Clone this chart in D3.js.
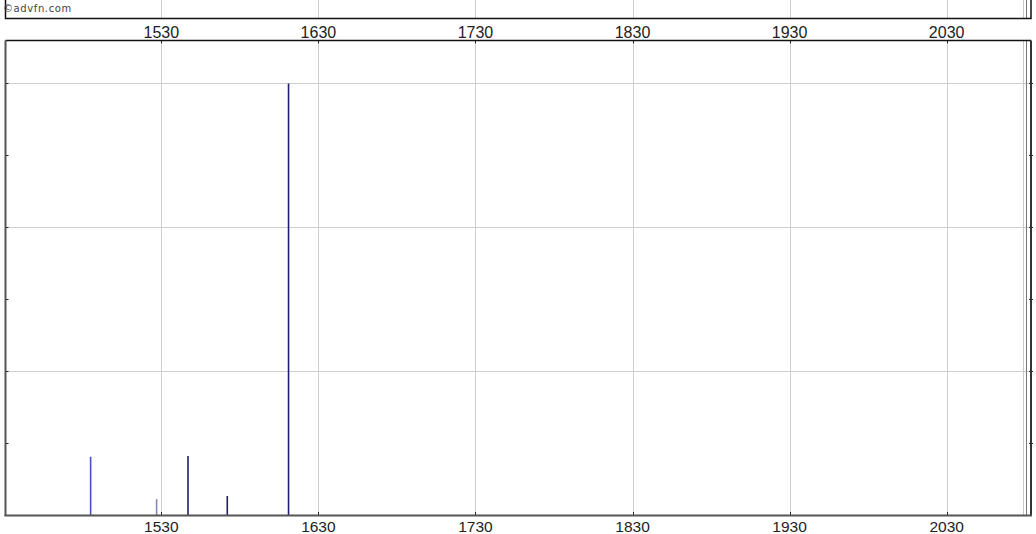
<!DOCTYPE html>
<html><head><meta charset="utf-8">
<script src="https://cdn.jsdelivr.net/npm/d3@7"></script>
<style>
html,body{margin:0;padding:0;background:#fff;}
svg{display:block;font-family:"Liberation Sans",Arial,sans-serif;}
</style></head>
<body>
<svg id="chart" width="1036" height="534"></svg>
<script>
// data
const dates = [1485, 1527, 1547, 1572, 1611];
const volumes = [405, 110, 410, 132, 3000];
const barColors = ["#4e4ec0", "#8686b4", "#1e1e70", "#1e1e70", "#1e1e70"];
const xTicks = [1530, 1630, 1730, 1830, 1930, 2030];
const yGrid = [1000, 2000, 3000];
const yMinor = [500, 1500, 2500];
const credit = "\u00A9advfn.com";

const svg = d3.select("#chart");
const L = 5.5, R = 1031, T = 40.5, B = 515;
const x = d3.scaleLinear().domain([1430.8, 2083.7]).range([L, R]);
const y = d3.scaleLinear().domain([0, 3298.6]).range([B, T]);

// top strip
const topG = svg.append("g");
topG.selectAll("line.tg").data(xTicks).join("line")
  .attr("x1", d => Math.round(x(d)) + 0.5).attr("x2", d => Math.round(x(d)) + 0.5)
  .attr("y1", 0).attr("y2", 18).attr("stroke", "#cfcfcf").attr("stroke-width", 1);
topG.append("line").attr("x1", 1023.5).attr("x2", 1023.5).attr("y1", 0).attr("y2", 18).attr("stroke", "#c8c8c8");
topG.append("line").attr("x1", 1026.5).attr("x2", 1026.5).attr("y1", 0).attr("y2", 18).attr("stroke", "#777");
topG.append("path").attr("d", `M${L},0V18.5H${R}V0`).attr("fill", "none").attr("stroke", "#111").attr("stroke-width", 1.5);
topG.append("text").attr("x", 3).attr("y", 12).attr("font-size", 10)
  .attr("font-family", "DejaVu Sans, sans-serif").attr("letter-spacing", 0.6)
  .attr("fill", "#444").text(credit);

// top axis labels
svg.append("g").selectAll("text").data(xTicks).join("text")
  .attr("x", d => x(d)).attr("y", 37.5).attr("text-anchor", "middle")
  .attr("font-size", 16).attr("fill", "#222").text(d => d);

// main gridlines
const g = svg.append("g");
g.selectAll("line.vg").data(xTicks).join("line")
  .attr("x1", d => Math.round(x(d)) + 0.5).attr("x2", d => Math.round(x(d)) + 0.5)
  .attr("y1", T).attr("y2", B).attr("stroke", "#cfcfcf").attr("stroke-width", 1);
g.selectAll("line.hg").data(yGrid).join("line")
  .attr("x1", L).attr("x2", R)
  .attr("y1", d => Math.round(y(d)) + 0.5).attr("y2", d => Math.round(y(d)) + 0.5)
  .attr("stroke", "#cfcfcf").attr("stroke-width", 1);
g.append("line").attr("x1", 1023.5).attr("x2", 1023.5).attr("y1", T).attr("y2", B).attr("stroke", "#c8c8c8");
g.append("line").attr("x1", 1026.5).attr("x2", 1026.5).attr("y1", T).attr("y2", B).attr("stroke", "#777");

// bars
g.selectAll("line.bar").data(dates).join("line")
  .attr("x1", d => x(d)).attr("x2", d => x(d))
  .attr("y1", B).attr("y2", (d, i) => y(volumes[i]))
  .attr("stroke", (d, i) => barColors[i]).attr("stroke-width", 1.6);

// left / right ticks
const allY = yGrid.concat(yMinor);
g.selectAll("line.lt").data(allY).join("line")
  .attr("x1", L).attr("x2", L + 3)
  .attr("y1", d => Math.round(y(d)) + 0.5).attr("y2", d => Math.round(y(d)) + 0.5)
  .attr("stroke", "#222");
g.selectAll("line.rt").data(allY).join("line")
  .attr("x1", R - 2).attr("x2", R + 2)
  .attr("y1", d => Math.round(y(d)) + 0.5).attr("y2", d => Math.round(y(d)) + 0.5)
  .attr("stroke", "#222");
// bottom / top ticks
g.selectAll("line.bt").data(xTicks).join("line")
  .attr("x1", d => Math.round(x(d)) + 0.5).attr("x2", d => Math.round(x(d)) + 0.5)
  .attr("y1", B - 3).attr("y2", B).attr("stroke", "#222");
g.selectAll("line.tt").data(xTicks).join("line")
  .attr("x1", d => Math.round(x(d)) + 0.5).attr("x2", d => Math.round(x(d)) + 0.5)
  .attr("y1", T).attr("y2", T + 3).attr("stroke", "#222");

// frame
g.append("line").attr("x1", L).attr("x2", R).attr("y1", T).attr("y2", T).attr("stroke", "#111").attr("stroke-width", 1.5);
g.append("line").attr("x1", L).attr("x2", L).attr("y1", T).attr("y2", B + 1).attr("stroke", "#555").attr("stroke-width", 2);
g.append("line").attr("x1", R).attr("x2", R).attr("y1", T).attr("y2", B + 1).attr("stroke", "#333").attr("stroke-width", 2);
g.append("line").attr("x1", L - 1).attr("x2", R + 1).attr("y1", B + 0.5).attr("y2", B + 0.5).attr("stroke", "#555").attr("stroke-width", 2);

// bottom axis labels
svg.append("g").selectAll("text").data(xTicks).join("text")
  .attr("x", d => x(d)).attr("y", 531.5).attr("text-anchor", "middle")
  .attr("font-size", 15.5).attr("fill", "#222").text(d => d);
</script>
</body></html>
